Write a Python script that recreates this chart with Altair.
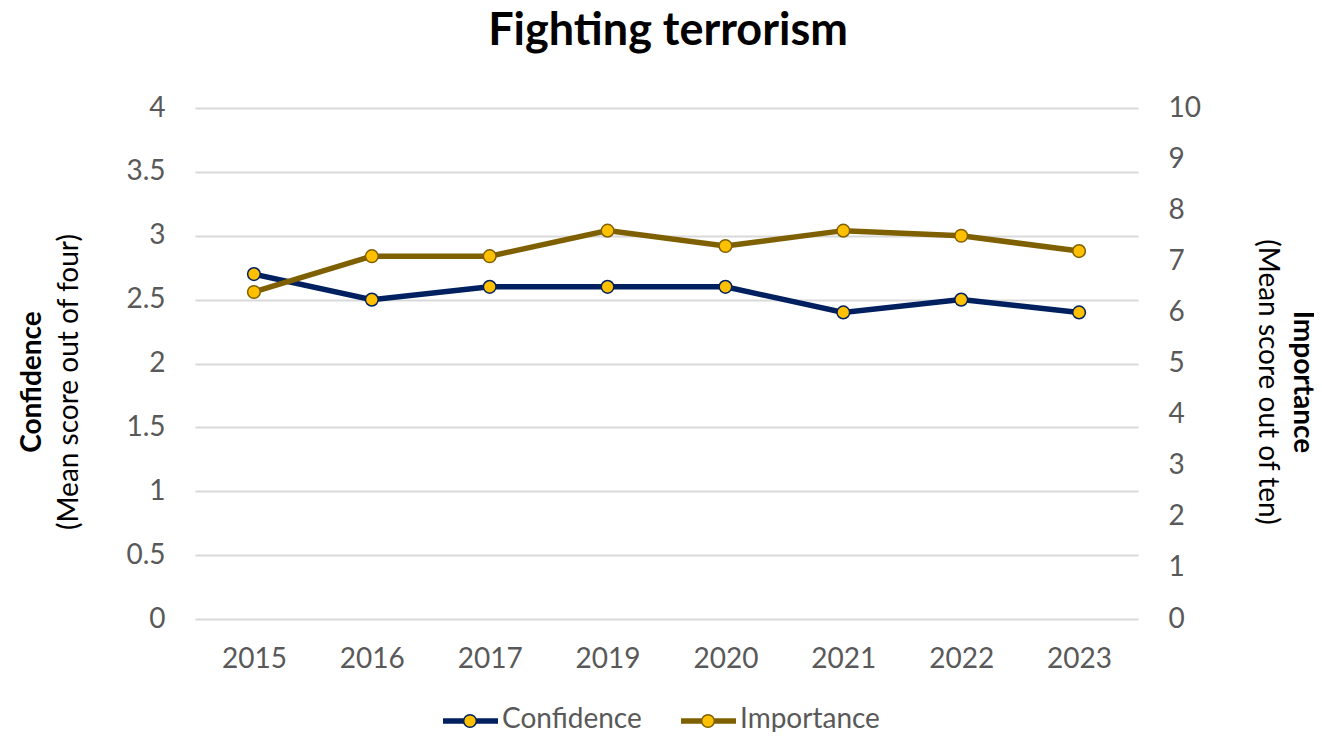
import altair as alt
import pandas as pd

years = ["2015", "2016", "2017", "2019", "2020", "2021", "2022", "2023"]
confidence = [2.7, 2.5, 2.6, 2.6, 2.6, 2.4, 2.5, 2.4]
importance = [6.4, 7.1, 7.1, 7.6, 7.3, 7.6, 7.5, 7.2]
series_names = ["Confidence", "Importance"]
left_ticks = [0, 0.5, 1, 1.5, 2, 2.5, 3, 3.5, 4]
right_ticks = [0, 1, 2, 3, 4, 5, 6, 7, 8, 9, 10]

df = pd.DataFrame({"year": years, "confidence": confidence, "importance": importance})

FONT = "Lato"
NAVY = "#002060"
BROWN = "#7F6000"
GOLD = "#FFC000"
GREY = "#595959"
FS = 28

x_enc = alt.X(
    "year:N", sort=years,
    scale=alt.Scale(type="point", padding=0.5),
    axis=alt.Axis(title=None, labelAngle=0, labelFontSize=FS, labelFont=FONT,
                  labelColor=GREY, labelPadding=26, ticks=False, domain=False, grid=False),
)

y_left = alt.Y(
    "confidence:Q",
    scale=alt.Scale(domain=[0, 4]),
    axis=alt.Axis(title=None, values=left_ticks, format=".1~f", labelFontSize=FS, labelFont=FONT,
                  labelColor=GREY, labelPadding=30, ticks=False, domain=False,
                  grid=True, gridColor="#d9d9d9", gridWidth=2, orient="left"),
)
y_right = alt.Y(
    "importance:Q",
    scale=alt.Scale(domain=[0, 10]),
    axis=alt.Axis(title=None, values=right_ticks, labelFontSize=FS, labelFont=FONT,
                  labelColor=GREY, labelPadding=30, ticks=False, domain=False,
                  grid=False, orient="right"),
)

PT_SIZE = 160
LW = 5.5

base = alt.Chart(df)
conf = alt.layer(
    base.mark_line(color=NAVY, strokeWidth=LW).encode(x=x_enc, y=y_left),
    base.mark_point(shape="circle", filled=True, fill=GOLD, stroke=NAVY, strokeWidth=1.5,
                    size=PT_SIZE, opacity=1).encode(x=x_enc, y=y_left),
)
imp = alt.layer(
    base.mark_line(color=BROWN, strokeWidth=LW).encode(x=x_enc, y=y_right),
    base.mark_point(shape="circle", filled=True, fill=GOLD, stroke=BROWN, strokeWidth=1.5,
                    size=PT_SIZE, opacity=1).encode(x=x_enc, y=y_right),
)


def txt(s, x, y, size, weight="normal", angle=0, color="black", align="center"):
    return alt.Chart(pd.DataFrame({"t": [s]})).mark_text(
        font=FONT, fontSize=size, fontWeight=weight, angle=angle, color=color,
        align=align, baseline="middle"
    ).encode(x=alt.value(x), y=alt.value(y), text="t:N")


def legend_item(name, color, x0):
    d = pd.DataFrame({"t": [name]})
    rule = alt.Chart(d).mark_rule(color=color, strokeWidth=LW).encode(
        x=alt.value(x0), x2=alt.value(x0 + 55), y=alt.value(613))
    pt = alt.Chart(d).mark_point(shape="circle", filled=True, fill=GOLD, stroke=color,
                                 strokeWidth=1.5, size=PT_SIZE, opacity=1).encode(
        x=alt.value(x0 + 27), y=alt.value(613))
    label = txt(name, x0 + 59, 612, FS, color=GREY, align="left")
    return [rule, pt, label]


decor = [
    txt("Fighting terrorism", 473, -77, 45, weight="bold"),
    txt("Confidence", -162, 274, FS, weight="bold", angle=270),
    txt("(Mean score out of four)", -125, 274, FS, angle=270),
    txt("Importance", 1107, 274, FS, weight="bold", angle=90),
    txt("(Mean score out of ten)", 1072, 274, FS, angle=90),
]
decor += legend_item(series_names[0], NAVY, 248)
decor += legend_item(series_names[1], BROWN, 486)

chart = alt.layer(conf, imp, *decor).resolve_scale(y="independent").properties(
    width=943, height=511,
    background="white",
    autosize=alt.AutoSizeParams(type="none"),
    padding={"left": 187, "top": 100, "right": 176, "bottom": 113},
).configure_view(stroke=None, strokeWidth=0).configure_axis(
    domain=False, ticks=False
)

chart.save("out.html", embed_options={"renderer": "svg", "actions": False})
